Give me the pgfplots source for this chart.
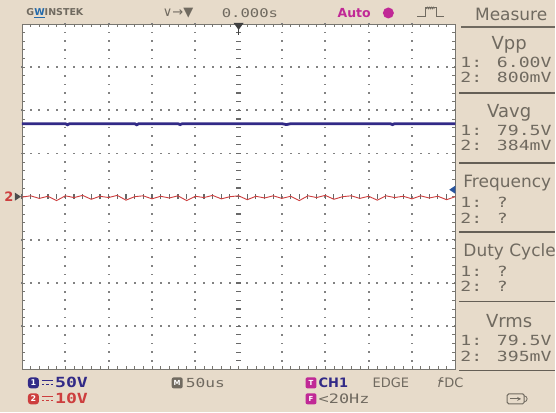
\documentclass[border=0pt]{standalone}
\usepackage{pgfplots}
\pgfplotsset{compat=1.18}
\usepackage{fontspec}
\setmainfont{DejaVu Sans}
\newfontfamily\scopefont[FakeStretch=1.3]{DejaVu Sans Mono}
\definecolor{bg}{RGB}{231,219,202}
\definecolor{txt}{RGB}{112,106,96}
\definecolor{chone}{RGB}{50,42,135}
\definecolor{chtwo}{RGB}{205,62,62}
\definecolor{mag}{RGB}{192,40,150}
\definecolor{griddot}{RGB}{130,130,130}
\definecolor{border}{RGB}{120,118,112}

\pgfplotstableread{
x y
0 1.69
0.5 1.69
1.0 1.69
1.05 1.665
1.1 1.69
2.0 1.69
2.6 1.69
2.65 1.665
2.7 1.69
3.6 1.69
3.65 1.67
3.7 1.69
5.0 1.69
6.0 1.69
6.1 1.67
6.2 1.69
7.5 1.69
8.5 1.69
8.55 1.67
8.6 1.69
10 1.69
}\chonedata

\pgfplotstableread{
x y
0 -0.01
0.2 0.02
0.4 -0.04
0.6 0.01
0.8 -0.09
1.0 0.02
1.2 -0.02
1.4 0.03
1.6 -0.06
1.8 0.01
2.0 -0.02
2.2 0.03
2.4 -0.08
2.6 0.00
2.8 0.02
3.0 -0.05
3.2 0.01
3.4 -0.03
3.6 0.02
3.8 -0.09
4.0 0.01
4.2 -0.02
4.4 0.03
4.6 -0.05
4.8 0.00
5.0 0.02
5.2 -0.07
5.4 0.01
5.6 -0.03
5.8 0.02
6.0 -0.04
6.2 0.01
6.4 -0.09
6.6 0.02
6.8 -0.02
7.0 0.03
7.2 -0.06
7.4 0.00
7.6 0.02
7.8 -0.04
8.0 0.01
8.2 -0.08
8.4 0.02
8.6 -0.02
8.8 0.01
9.0 -0.05
9.2 0.02
9.4 -0.03
9.6 0.01
9.8 -0.07
10 0.00
}\chtwodata

\begin{document}
\begin{tikzpicture}
\begin{scope}[x=1pt,y=1pt]
% background
\fill[bg] (0,0) rectangle (556,413);
% plot area
\fill[white] (22,43) rectangle (456,389);
% dotted grid
\foreach \i in {1,2,3,4,6,7,8,9} {
  \foreach \j in {0,...,40} {
    \fill[griddot] ({22+43.4*\i-0.9},{43+8.65*\j-0.9}) rectangle ++(1.8,1.8);
  }
}
\foreach \j in {1,2,3,5,6,7} {
  \foreach \i in {0,...,50} {
    \fill[griddot] ({22+8.68*\i-0.9},{43+43.25*\j-0.9}) rectangle ++(1.8,1.8);
  }
}
% centre lines with ticks
\foreach \j in {0,...,40} {
  \draw[griddot!80!black, line width=1.1pt] (236.5,{43+8.65*\j}) -- (241.5,{43+8.65*\j});
}
\foreach \i in {0,...,50} {
  \draw[griddot!80!black, line width=1.1pt] ({22+8.68*\i},213.5) -- ({22+8.68*\i},218.5);
}
% edge ticks
\foreach \i in {0,...,50} {
  \draw[border, line width=0.8pt] ({22+8.68*\i},389) -- ({22+8.68*\i},386);
  \draw[border, line width=0.8pt] ({22+8.68*\i},43) -- ({22+8.68*\i},46);
}
\foreach \j in {0,...,40} {
  \draw[border, line width=0.8pt] (22,{43+8.65*\j}) -- (25,{43+8.65*\j});
  \draw[border, line width=0.8pt] (456,{43+8.65*\j}) -- (453,{43+8.65*\j});
}
\draw[border, line width=0.9pt] (22,43) rectangle (456,389);
\end{scope}

\begin{axis}[at={(22pt,43pt)}, anchor=south west, scale only axis,
  width=434pt, height=346pt, xmin=0, xmax=10, ymin=-4, ymax=4,
  axis line style={draw=none}, ticks=none, clip=true]
\addplot[chtwo, line width=0.9pt] table[x=x,y=y] {\chtwodata};
\addplot[chone, line width=2.8pt] table[x=x,y=y] {\chonedata};
\end{axis}

\begin{scope}[x=1pt,y=1pt]
% markers
\fill[black!75] (234,390) -- (244,390) -- (239,383) -- cycle;
\draw[black!75, line width=1pt] (239,388) -- (239,378);
\node[text=chtwo, font=\bfseries\fontsize{13}{13}\selectfont] at (9,216) {2};
\fill[black!70] (15,220) -- (15,212) -- (21,216) -- cycle;
\fill[chone!80!cyan] (456,227) -- (456,219) -- (450,223) -- cycle;

% top bar
\node[anchor=west, text=txt, font=\bfseries\fontsize{9.5}{10}\selectfont] at (23,400) {G\textcolor{chone!70!cyan}{\underline{W}}INSTEK};
\node[anchor=west, text=txt, font=\fontsize{13}{13}\selectfont, inner sep=0pt] at (163,400) {∨→▼};
\node[anchor=west, text=txt, font=\scopefont\fontsize{12}{12}\selectfont, inner sep=0pt] at (222,400) {0.000s};
\node[anchor=west, text=mag, font=\bfseries\fontsize{12.5}{13}\selectfont, inner sep=0pt] at (338,400) {Auto};
\fill[mag] (389,400) circle (5.5);
\draw[txt, line width=1pt] (418,396) -- (426,396) -- (426,405) -- (437,405) -- (437,396) -- (445,396);
\draw[txt, line width=0.6pt] (427,404) -- (428,406) -- (429,404) -- (430,406) -- (431,404) -- (432,406) -- (433,404) -- (434,406) -- (435,404);

% right panel
\node[text=txt, font=\fontsize{17}{17}\selectfont] at (512,399) {Measure};
\draw[txt, line width=1.6pt] (462,386) -- (556,386);
\foreach \yy in {320,250,181,111,42} {
  \draw[txt!90!black, line width=1.8pt] (460,\yy) -- (556,\yy);
}
\node[text=txt, font=\fontsize{18}{18}\selectfont] at (510,368) {Vpp};
\node[text=txt, font=\fontsize{18}{18}\selectfont] at (510,300) {Vavg};
\node[anchor=west, text=txt, font=\fontsize{17}{17}\selectfont, inner sep=0pt] at (464,230) {Frequency};
\node[anchor=west, text=txt, font=\fontsize{17}{17}\selectfont, inner sep=0pt] at (464,161) {Duty Cycle};
\node[text=txt, font=\fontsize{18}{18}\selectfont] at (510,91) {Vrms};
\begin{scope}[every node/.style={anchor=west, text=txt, inner sep=0pt, font=\scopefont\fontsize{14}{14}\selectfont}]
\node at (461,350) {1: 6.00V};
\node at (461,335) {2: 800mV};
\node at (461,282) {1: 79.5V};
\node at (461,267) {2: 384mV};
\node at (461,210) {1:  ?};
\node at (461,194) {2:  ?};
\node at (461,141) {1:  ?};
\node at (461,126) {2:  ?};
\node at (461,72) {1: 79.5V};
\node at (461,56) {2: 395mV};
\end{scope}

% bottom bar
\fill[chone, rounded corners=3pt] (28,24) rectangle (39,35);
\node[text=white, font=\bfseries\fontsize{8}{8}\selectfont] at (33.5,29.5) {1};
\draw[chone, line width=1.2pt] (42,31.5) -- (53,31.5);
\draw[chone, line width=1.2pt, dash pattern=on 2.5pt off 1.8pt] (42,27.5) -- (53,27.5);
\node[anchor=west, text=chone, inner sep=0pt, font=\scopefont\bfseries\fontsize{14}{14}\selectfont] at (55,29.5) {50V};
\fill[chtwo, rounded corners=3pt] (28,8) rectangle (39,19);
\node[text=white, font=\bfseries\fontsize{8}{8}\selectfont] at (33.5,13.5) {2};
\draw[chtwo, line width=1.2pt] (42,15.5) -- (53,15.5);
\draw[chtwo, line width=1.2pt, dash pattern=on 2.5pt off 1.8pt] (42,11.5) -- (53,11.5);
\node[anchor=west, text=chtwo, inner sep=0pt, font=\scopefont\bfseries\fontsize{14}{14}\selectfont] at (55,13.5) {10V};

\fill[txt, rounded corners=2pt] (172,24) rectangle (183,35);
\node[text=white, font=\bfseries\fontsize{7}{7}\selectfont] at (177.5,29.5) {M};
\node[anchor=west, text=txt, inner sep=0pt, font=\scopefont\fontsize{12.5}{12.5}\selectfont] at (186,29.5) {50us};

\fill[mag, rounded corners=2pt] (306,24) rectangle (317,35);
\node[text=white, font=\bfseries\fontsize{7}{7}\selectfont] at (311.5,29.5) {T};
\node[anchor=west, text=chone, inner sep=0pt, font=\bfseries\fontsize{13}{13}\selectfont] at (319,29.5) {CH1};
\node[anchor=west, text=txt, inner sep=0pt, font=\fontsize{13}{13}\selectfont] at (373,29.5) {EDGE};
\node[anchor=west, text=txt, inner sep=0pt, font=\fontsize{13}{13}\selectfont] at (438,29.5) {\textit{f}\hspace{-4pt}\raisebox{2pt}{-}DC};

\fill[mag, rounded corners=2pt] (306,8) rectangle (317,19);
\node[text=white, font=\bfseries\fontsize{7}{7}\selectfont] at (311.5,13.5) {F};
\node[anchor=west, text=txt, inner sep=0pt, font=\scopefont\fontsize{13}{13}\selectfont] at (319,13.5) {<20Hz};

\draw[txt, line width=1pt, rounded corners=1.5pt] (508,8.5) rectangle (525,18.5);
\draw[txt, line width=0.8pt] (525,10.5) arc (-90:90:3);
\draw[txt, line width=0.8pt, ->, >=stealth] (511,13.5) -- (522,13.5);
\end{scope}
\end{tikzpicture}
\end{document}
